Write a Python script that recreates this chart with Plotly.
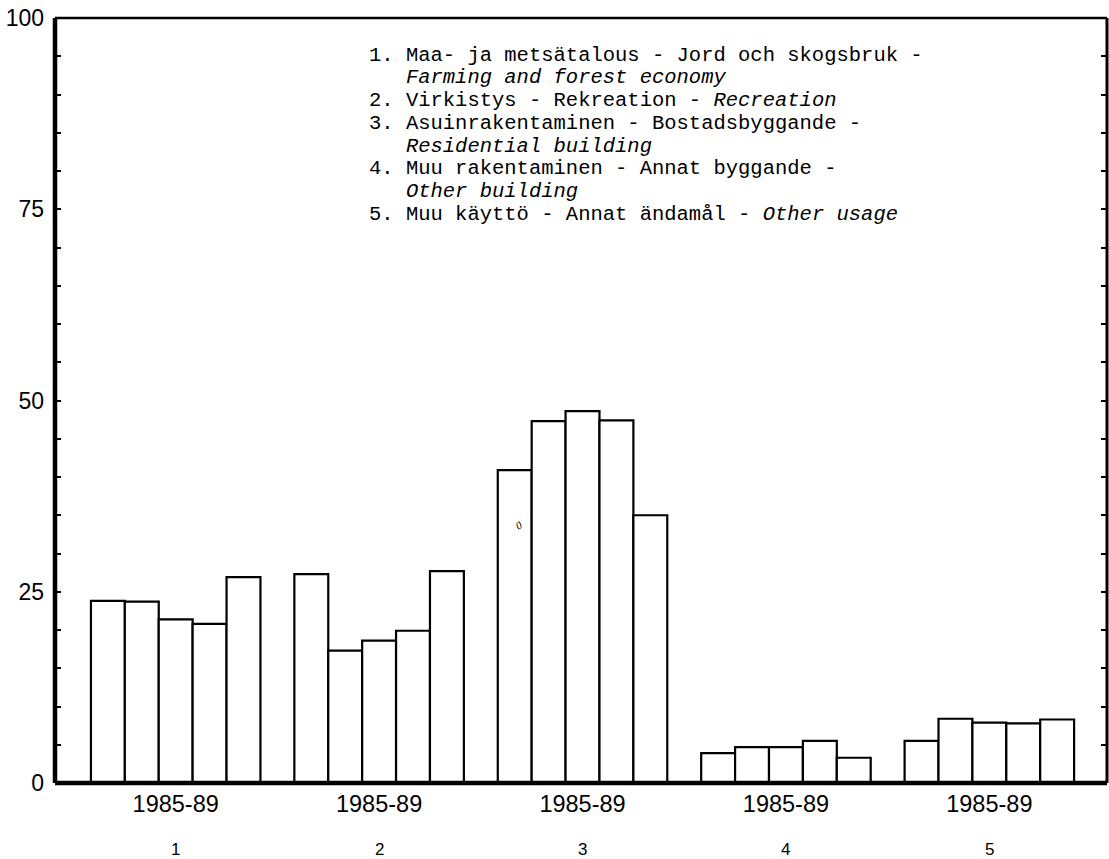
import plotly.graph_objects as go

# ---- data ----
categories = ["1", "2", "3", "4", "5"]
period_label = "1985-89"
years = ["1985", "1986", "1987", "1988", "1989"]
v1985 = [23.8, 27.3, 40.9, 3.9, 5.5]
v1986 = [23.7, 17.3, 47.3, 4.7, 8.4]
v1987 = [21.4, 18.6, 48.6, 4.7, 7.9]
v1988 = [20.8, 19.9, 47.4, 5.5, 7.8]
v1989 = [26.9, 27.7, 35.0, 3.3, 8.3]
series = [v1985, v1986, v1987, v1988, v1989]
y_tickvals = list(range(0, 101, 5))
y_major = [0, 25, 50, 75, 100]

legend_lines = [
    "1. Maa- ja metsätalous - Jord och skogsbruk -",
    "\u00a0\u00a0\u00a0<i>Farming and forest economy</i>",
    "2. Virkistys - Rekreation - <i>Recreation</i>",
    "3. Asuinrakentaminen - Bostadsbyggande -",
    "\u00a0\u00a0\u00a0<i>Residential building</i>",
    "4. Muu rakentaminen - Annat byggande -",
    "\u00a0\u00a0\u00a0<i>Other building</i>",
    "5. Muu käyttö - Annat ändamål - <i>Other usage</i>",
]

W, H = 1109, 859
L, R, T, B = 55, 2, 18, 76
PW, PH = W - L - R, H - T - B
GROUP_STEP = 6  # 5 bars + one empty slot

def px_x(p):
    return (p - L) / PW

def px_y(p):
    return (H - B - p) / PH

fig = go.Figure()
for i, (yr, vals) in enumerate(zip(years, series)):
    fig.add_trace(go.Bar(
        x=[g * GROUP_STEP + i for g in range(len(categories))],
        y=vals,
        width=1.0,
        name=yr,
        marker=dict(color="white", line=dict(color="black", width=2.2)),
        showlegend=False,
    ))

# invisible trace on the right-side axis for mirrored ticks
fig.add_trace(go.Scatter(x=[0], y=[0], yaxis="y2", mode="markers",
                         marker=dict(opacity=0), showlegend=False, hoverinfo="skip"))

fig.update_layout(
    width=W, height=H,
    margin=dict(l=L, r=R, t=T, b=B),
    paper_bgcolor="white", plot_bgcolor="white",
    barmode="overlay",
    font=dict(family="Liberation Sans, Arial, sans-serif", color="black"),
    xaxis=dict(
        range=[-1.56, 29.47],
        tickvals=[g * GROUP_STEP + 2 for g in range(len(categories))],
        ticktext=[period_label] * len(categories),
        ticks="", showgrid=False, zeroline=False, showline=False,
        tickfont=dict(size=23.5, family="Liberation Sans, Arial, sans-serif"),
        ticklabelstandoff=4,
    ),
    yaxis=dict(
        range=[0, 100],
        tickvals=y_tickvals,
        ticktext=[str(v) if v in y_major else "" for v in y_tickvals],
        ticks="inside", ticklen=6, tickwidth=2, tickcolor="black",
        showgrid=False, zeroline=False, showline=False,
        tickfont=dict(size=23, family="Liberation Sans, Arial, sans-serif"),
        ticklabelstandoff=10,
    ),
    yaxis2=dict(
        range=[0, 100], overlaying="y", side="right",
        tickvals=y_tickvals, showticklabels=False,
        ticks="inside", ticklen=6, tickwidth=2, tickcolor="black",
        showgrid=False, zeroline=False, showline=False,
    ),
)

# frame lines with differing thickness
fig.add_shape(type="line", xref="paper", yref="paper", x0=0, x1=0, y0=0, y1=1,
              line=dict(color="black", width=4.5))
fig.add_shape(type="line", xref="paper", yref="paper", x0=0, x1=1, y0=0, y1=0,
              line=dict(color="black", width=4.5))
fig.add_shape(type="line", xref="paper", yref="paper", x0=0, x1=1, y0=1, y1=1,
              line=dict(color="black", width=2.5))
fig.add_shape(type="line", xref="paper", yref="paper", x0=1, x1=1, y0=0, y1=1,
              line=dict(color="black", width=3))

# legend text block
line_y0 = 55
line_step = 22.8
for k, txt in enumerate(legend_lines):
    fig.add_annotation(
        text=txt, xref="paper", yref="paper",
        x=px_x(367), y=px_y(line_y0 + k * line_step),
        xanchor="left", yanchor="middle", showarrow=False,
        font=dict(family="Courier New, Liberation Mono, DejaVu Sans Mono, monospace",
                  size=20.5, color="black"),
    )

# group numbers under the period labels
for g, c in enumerate(categories):
    fig.add_annotation(
        text=c, xref="x", yref="paper",
        x=g * GROUP_STEP + 2, y=px_y(850),
        xanchor="center", yanchor="middle", showarrow=False,
        font=dict(size=17, family="Liberation Sans, Arial, sans-serif", color="black"),
    )

# small stray mark inside a bar (as in the scanned original)
fig.add_annotation(text="<i>0</i>", xref="x", yref="y", x=12.13, y=33.7,
                   showarrow=False, textangle=-30,
                   font=dict(size=11, family="Liberation Serif, serif", color="black"))

fig.write_html(
    "out.html",
    config={"displayModeBar": False},
    post_script="document.body.style.margin='0';document.body.style.overflow='hidden';",
)
